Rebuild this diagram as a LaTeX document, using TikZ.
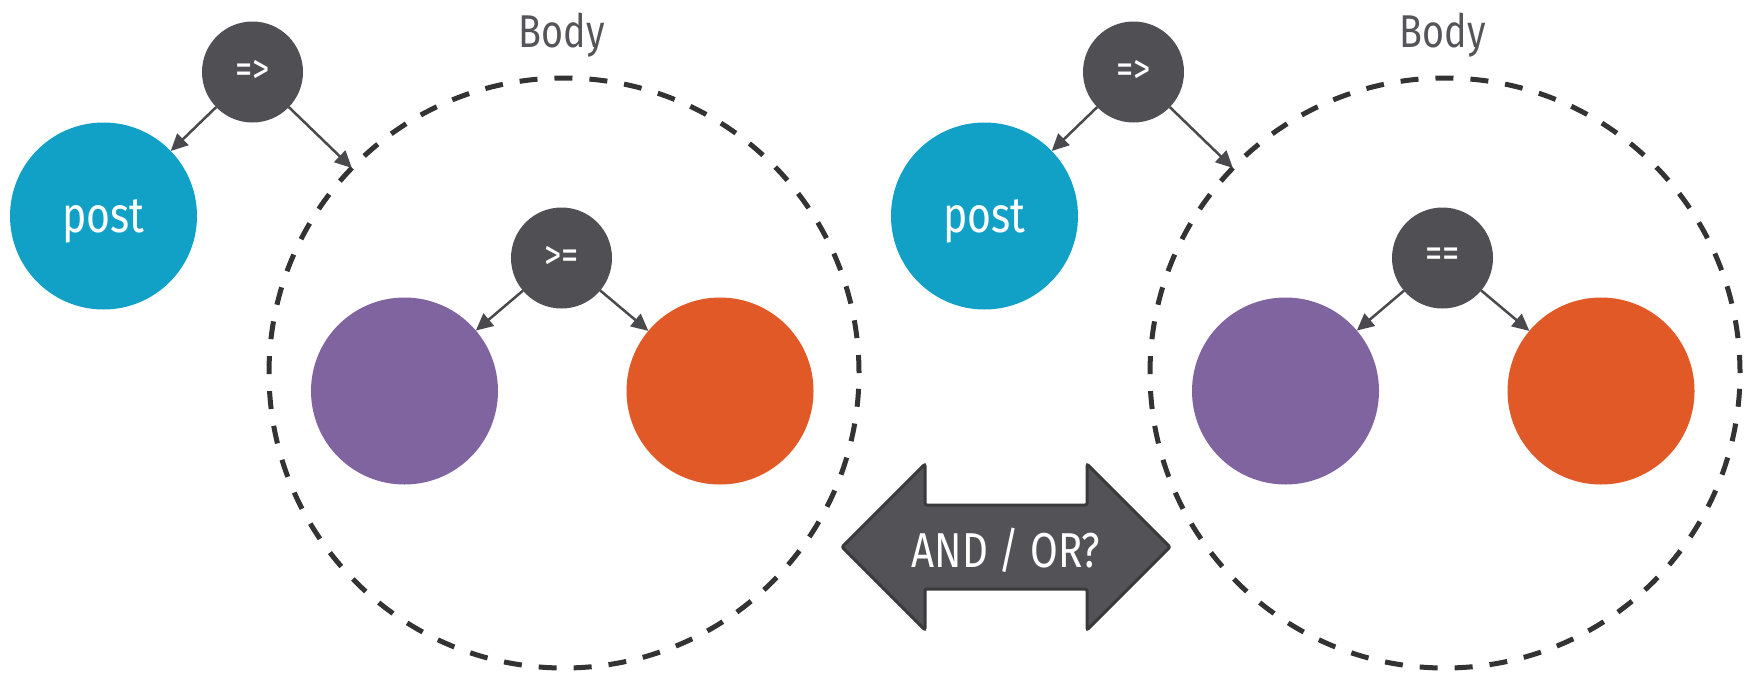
\documentclass[tikz,border=0pt]{standalone}
\usepackage{fontspec}
\setmainfont{Fira Sans}[FakeStretch=0.82]
\usetikzlibrary{arrows.meta}

\definecolor{opgrey}{HTML}{504F54}
\definecolor{linkgrey}{HTML}{4A494E}
\definecolor{dashgrey}{HTML}{333333}
\definecolor{labelgrey}{HTML}{555459}
\definecolor{postblue}{HTML}{12A1C6}
\definecolor{lhspurple}{HTML}{8064A0}
\definecolor{rhsorange}{HTML}{E05926}
\definecolor{arrowfill}{HTML}{535257}
\definecolor{arrowedge}{HTML}{3A3A3C}

\begin{document}
\begin{tikzpicture}[x=1pt,y=-1pt,
  opnode/.style={circle, fill=opgrey, minimum size=101pt, inner sep=0pt, outer sep=0pt,
                 text=white, font=\fontsize{42}{42}\selectfont, text depth=0pt},
  ball/.style={circle, minimum size=187pt, inner sep=0pt, outer sep=0pt,
               text=white, font=\fontsize{50}{50}\selectfont, text depth=0pt},
  bodyring/.style={circle, draw=dashgrey, line width=5pt, dash pattern=on 18pt off 17pt,
                   minimum size=590pt, inner sep=0pt, outer sep=0pt},
  bodylabel/.style={text=labelgrey, font=\fontsize{46}{46}\selectfont, anchor=base},
  link/.style={draw=linkgrey, line width=2.5pt, -{Triangle[length=17pt,width=16pt]}}
]
\useasboundingbox (0,0) rectangle (1752,672);

% two implication trees, the second one shifted to the right
\foreach \s/\dx/\cmp in {L/0/{>=}, R/881/{==}} {
  \node[ball, fill=postblue] (post\s) at (103.5+\dx,216) {post};
  \node[opnode] (imp\s) at (252.5+\dx,72) {=>};
  \node[bodyring] (body\s) at (564+\dx,373) {};
  \node[bodylabel] (bodytxt\s) at (562+\dx,47) {Body};
  \node[opnode] (cmp\s) at (561.5+\dx,258) {\cmp};
  \node[ball, fill=lhspurple] (lhs\s) at (404.5+\dx,391) {};
  \node[ball, fill=rhsorange] (rhs\s) at (720+\dx,391) {};
  \draw[link] (imp\s) -- (post\s);
  \draw[link] (imp\s) -- (body\s);
  \draw[link] (cmp\s) -- (lhs\s);
  \draw[link] (cmp\s) -- (rhs\s);
}

% double-headed block arrow between the two trees
\draw[fill=arrowfill, draw=arrowedge, line width=3pt, rounded corners=2pt]
  (842,547) -- (925,464) -- (925,505) -- (1087,505) -- (1087,464) -- (1170,547)
  -- (1087,630) -- (1087,589) -- (925,589) -- (925,630) -- cycle;
\node[text=white, font=\fontsize{49}{49}\selectfont, anchor=base] (andor) at (1006,567) {AND / OR?};
\end{tikzpicture}
\end{document}
